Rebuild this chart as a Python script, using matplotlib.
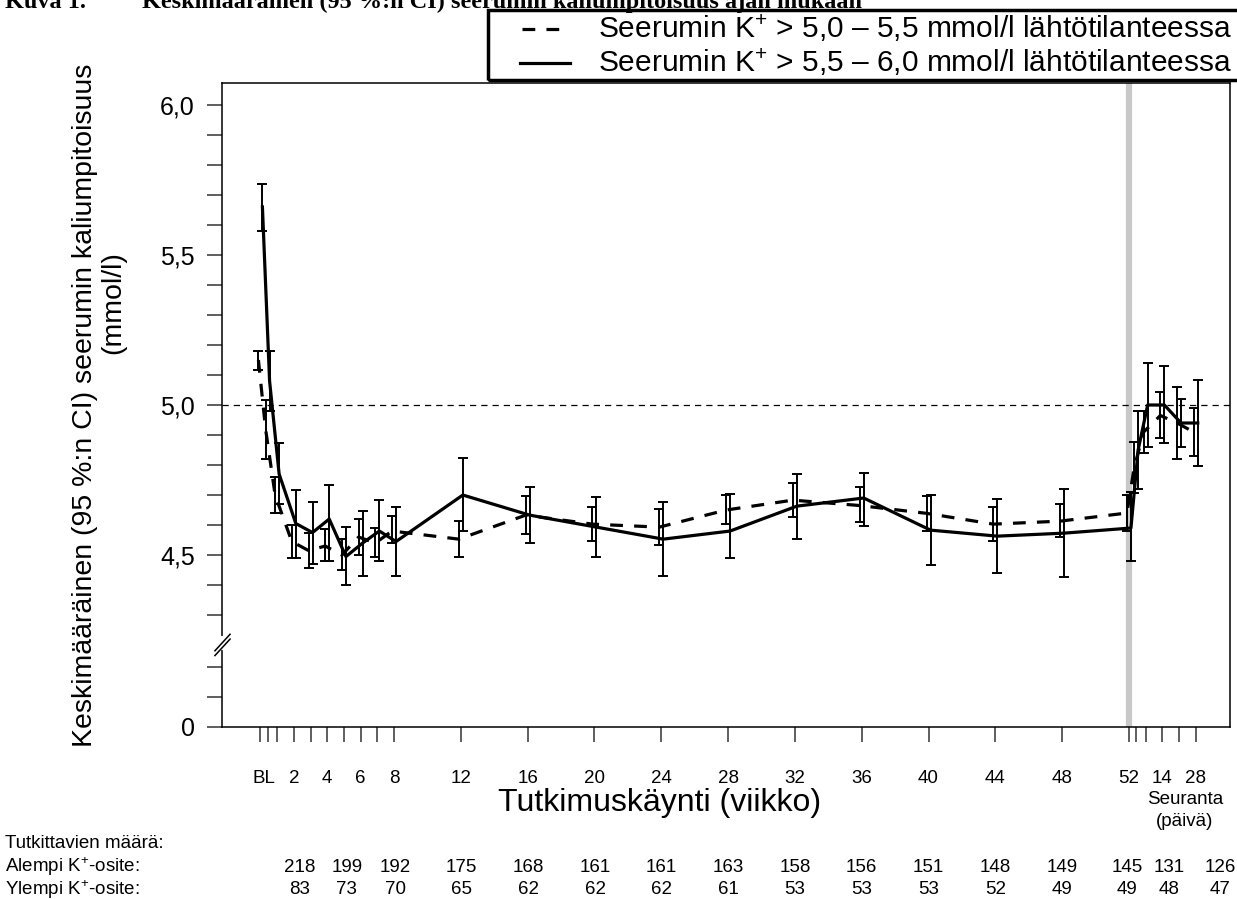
import matplotlib
matplotlib.use("Agg")
import matplotlib.pyplot as plt
import matplotlib.transforms as mtransforms
from matplotlib.lines import Line2D
from matplotlib.patches import Rectangle
import numpy as np

plt.rcParams['font.family'] = ['Liberation Sans', 'DejaVu Sans']
plt.rcParams['mathtext.fontset'] = 'custom'
plt.rcParams['mathtext.rm'] = 'Liberation Sans'
plt.rcParams['mathtext.default'] = 'regular'

# visits in weeks; follow-up days 3, 7, 14, 21, 28 after week 52
visits = [0, 3 / 7, 1, 2, 3, 4, 5, 6, 7, 8, 12, 16, 20, 24, 28, 32, 36, 40, 44, 48, 52,
          52 + 3 / 7, 53, 54, 55, 56]

# lower stratum: K+ > 5.0 - 5.5 mmol/l (dashed)
low_mean = [5.15, 4.92, 4.70, 4.545, 4.515, 4.53, 4.50, 4.56, 4.54, 4.58, 4.553, 4.633, 4.603,
            4.593, 4.65, 4.683, 4.665, 4.639, 4.603, 4.613, 4.64, 4.79, 4.91, 4.965, 4.94, 4.91]
low_lo = [5.117, 4.82, 4.64, 4.49, 4.458, 4.48, 4.45, 4.50, 4.494, 4.54, 4.492, 4.57, 4.548,
          4.533, 4.603, 4.626, 4.611, 4.581, 4.547, 4.561, 4.58, 4.707, 4.84, 4.89, 4.82, 4.83]
low_hi = [5.18, 5.017, 4.761, 4.60, 4.573, 4.587, 4.553, 4.62, 4.59, 4.63, 4.613, 4.697, 4.659,
          4.652, 4.70, 4.739, 4.728, 4.697, 4.659, 4.669, 4.70, 4.878, 4.98, 5.044, 5.061, 4.99]

# upper stratum: K+ > 5.5 - 6.0 mmol/l (solid)
high_mean = [5.66, 5.08, 4.77, 4.605, 4.575, 4.62, 4.495, 4.54, 4.58, 4.545, 4.70, 4.633, 4.593,
             4.553, 4.58, 4.663, 4.69, 4.583, 4.563, 4.573, 4.59, 4.85, 5.0, 5.0, 4.94, 4.94]
high_lo = [5.58, 4.98, 4.67, 4.49, 4.47, 4.48, 4.40, 4.43, 4.48, 4.43, 4.58, 4.539, 4.494,
           4.43, 4.489, 4.554, 4.597, 4.466, 4.441, 4.426, 4.48, 4.72, 4.86, 4.874, 4.86, 4.797]
high_hi = [5.735, 5.18, 4.874, 4.717, 4.677, 4.733, 4.593, 4.647, 4.683, 4.66, 4.822, 4.726, 4.692,
           4.676, 4.702, 4.769, 4.772, 4.70, 4.686, 4.72, 4.71, 4.98, 5.14, 5.13, 5.02, 5.083]

x_tick_pos = [0.2, 2, 4, 6, 8, 12, 16, 20, 24, 28, 32, 36, 40, 44, 48, 52, 54, 56]
x_tick_labels = ['BL', '2', '4', '6', '8', '12', '16', '20', '24', '28', '32', '36', '40',
                 '44', '48', '52', '14', '28']

y_zero = 3.927  # position of the "0" after the axis break
y_tick_pos = [y_zero, 4.5, 5.0, 5.5, 6.0]
y_tick_labels = ['0', '4,5', '5,0', '5,5', '6,0']
y_minor = [y_zero + 0.1, y_zero + 0.2] + [round(4.3 + 0.1 * i, 2) for i in range(18)]

n_low = [218, 199, 192, 175, 168, 161, 161, 163, 158, 156, 151, 148, 149, 145, 131, 126]
n_high = [83, 73, 70, 65, 62, 62, 62, 61, 53, 53, 53, 52, 49, 49, 48, 47]
n_col_x = [2.36, 5.17, 8.1, 12.05, 16.05, 20.06, 24.0, 28.0, 32.0, 36.0, 40.0, 44.0, 48.0,
           51.9, 54.4, 57.45]

legend_labels = ['Seerumin K$^{+}$ > 5,0 – 5,5 mmol/l lähtötilanteessa',
                 'Seerumin K$^{+}$ > 5,5 – 6,0 mmol/l lähtötilanteessa']

W, H = 1237, 899
fig = plt.figure(figsize=(W / 100, H / 100), dpi=100)
ax = fig.add_axes([222 / W, (H - 727) / H, 1008 / W, 644 / H])

dodge = 0.12
dash = (0, (4, 3.5))

ax.axvline(52, color='#c8c8c8', lw=4.5, zorder=0)
ax.axhline(5.0, color='black', lw=0.9, ls=(0, (5, 4)), zorder=1)

for mean, lo, hi, shift, ls in [(low_mean, low_lo, low_hi, -dodge, dash),
                                (high_mean, high_lo, high_hi, dodge, '-')]:
    x = np.array(visits) + shift
    m = np.array(mean)
    err = [m - np.array(lo), np.array(hi) - m]
    ax.errorbar(x, m, yerr=err, fmt='none', ecolor='black', elinewidth=1.4,
                capsize=3.4, capthick=1.4, zorder=3)
    ax.plot(x, m, color='black', lw=2.3, ls=ls, zorder=4)

ax.set_xlim(-2.3, 58.05)
ax.set_ylim(y_zero, 6.073)

ax.set_yticks(y_tick_pos, y_tick_labels)
ax.set_yticks(y_minor, minor=True)
ax.tick_params(axis='y', which='both', length=11, width=1.1, direction='out',
               labelsize=18, pad=8.5, color='#333333')

ax.xaxis.remove_overlapping_locs = False
ax.set_xticks(x_tick_pos, x_tick_labels)
ax.set_xticks(visits, minor=True)
ax.tick_params(axis='x', which='major', length=0, labelsize=13.5, pad=31)
ax.tick_params(axis='x', which='minor', length=11, width=1.1, direction='out', color='#333333')

for s in ax.spines.values():
    s.set_linewidth(1.1)

# axis break on the y axis
ytr = ax.get_yaxis_transform()
ax.plot([0, 0], [4.19, 4.222], transform=ytr, color='white', lw=3, clip_on=False, zorder=6)
for off in [0.0, 0.016]:
    ax.plot([-0.007, 0.008], [4.165 + off, 4.22 + off], transform=ytr, color='black',
            lw=1.1, clip_on=False, zorder=7)

# legend box
fig.add_artist(Rectangle((488 / W, 1 - 80 / H), 760 / W, 70 / H, transform=fig.transFigure,
                         fill=False, edgecolor='black', lw=2.5))
fig.add_artist(Line2D([522 / W, 567 / W], [1 - 29 / H] * 2, color='black', lw=2.3, ls=dash))
fig.add_artist(Line2D([520 / W, 570 / W], [1 - 63 / H] * 2, color='black', lw=2.3))
fig.text(598 / W, 1 - 28 / H, legend_labels[0], fontsize=21.5, va='center')
fig.text(598 / W, 1 - 62 / H, legend_labels[1], fontsize=21.5, va='center')

# title (cut at the top edge)
fig.text(5 / W, 1 - 8 / H, 'Kuva 1.', family='Liberation Serif', weight='bold',
         fontsize=17.5, va='baseline')
fig.text(142 / W, 1 - 8 / H, 'Keskimääräinen (95 %:n CI) seerumin kaliumpitoisuus ajan mukaan',
         family='Liberation Serif', weight='bold', fontsize=17.5, va='baseline')

# axis labels
fig.text(85 / W, 1 - 405 / H, 'Keskimääräinen (95 %:n CI) seerumin kaliumpitoisuus',
         rotation=90, ha='center', va='center', fontsize=20.5)
fig.text(113 / W, 1 - 303 / H, '(mmol/l)', rotation=90, ha='center', va='center', fontsize=20.5)
fig.text(660 / W, 1 - 803 / H, 'Tutkimuskäynti (viikko)', ha='center', va='center', fontsize=23)

btr = mtransforms.blended_transform_factory(ax.transData, fig.transFigure)
fig.text(55.35, 1 - 800 / H, 'Seuranta', transform=btr, ha='center', va='center', fontsize=13.5)
fig.text(55.35, 1 - 822 / H, '(päivä)', transform=btr, ha='center', va='center', fontsize=13.5)

# number of subjects table
fig.text(5 / W, 1 - 843 / H, 'Tutkittavien määrä:', fontsize=13.5, va='center')
fig.text(5 / W, 1 - 867 / H, 'Alempi K$^{+}$-osite:', fontsize=13.5, va='center')
fig.text(5 / W, 1 - 890 / H, 'Ylempi K$^{+}$-osite:', fontsize=13.5, va='center')
for xc, a, b in zip(n_col_x, n_low, n_high):
    fig.text(xc, 1 - 867 / H, str(a), transform=btr, ha='center', va='center', fontsize=13.5)
    fig.text(xc, 1 - 890 / H, str(b), transform=btr, ha='center', va='center', fontsize=13.5)

fig.savefig('out.png', dpi=100)
